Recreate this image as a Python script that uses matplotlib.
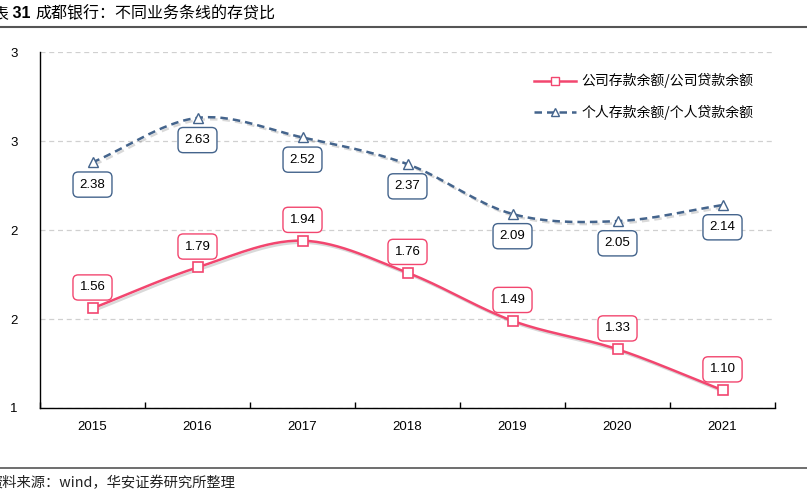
import numpy as np
import matplotlib
matplotlib.use("Agg")
import matplotlib.pyplot as plt
import matplotlib.patheffects as pe
from matplotlib.lines import Line2D
from matplotlib.ticker import FixedLocator, FuncFormatter

plt.rcParams['font.family'] = ['Noto Sans CJK SC', 'DejaVu Sans']

# Data
years = ['2015', '2016', '2017', '2018', '2019', '2020', '2021']
corp_ratio = [1.56, 1.79, 1.94, 1.76, 1.49, 1.33, 1.10]
pers_ratio = [2.38, 2.63, 2.52, 2.37, 2.09, 2.05, 2.14]
corp_label = '公司存款余额/公司贷款余额'
pers_label = '个人存款余额/个人贷款余额'

pink = '#F2466F'
blue = '#44648C'


def smooth(xs, ys, n=30):
    # Catmull-Rom curve through the points (like Excel's smoothed line)
    xs = np.asarray(xs, float)
    ys = np.asarray(ys, float)
    px = np.concatenate([[2 * xs[0] - xs[1]], xs, [2 * xs[-1] - xs[-2]]])
    py = np.concatenate([[2 * ys[0] - ys[1]], ys, [2 * ys[-1] - ys[-2]]])
    ox, oy = [], []
    t = np.linspace(0, 1, n, endpoint=False)
    for i in range(1, len(px) - 2):
        for p, out in ((px, ox), (py, oy)):
            p0, p1, p2, p3 = p[i - 1], p[i], p[i + 1], p[i + 2]
            out.extend(0.5 * (2 * p1 + (-p0 + p2) * t
                              + (2 * p0 - 5 * p1 + 4 * p2 - p3) * t ** 2
                              + (-p0 + 3 * p1 - 3 * p2 + p3) * t ** 3))
    ox.append(xs[-1])
    oy.append(ys[-1])
    return np.array(ox), np.array(oy)


fig = plt.figure(figsize=(8.07, 4.98), dpi=100)
ax = fig.add_axes([40 / 807, 1 - 408 / 498, 735 / 807, 356 / 498])

x = np.arange(len(years))
shadow = [pe.SimpleLineShadow(offset=(1.5, -1.5), alpha=0.15), pe.Normal()]

sx, sy = smooth(x, corp_ratio)
ax.plot(sx, sy, color=pink, lw=1.8, path_effects=shadow, zorder=3)
ax.plot(x, corp_ratio, ls='none', marker='s', ms=7, mfc='white', mec=pink,
        mew=1.2, zorder=4)

sx, sy = smooth(x, pers_ratio)
ax.plot(sx, sy, color=blue, lw=1.8, ls=(0, (3, 2)), path_effects=shadow, zorder=3)
ax.plot(x, pers_ratio, ls='none', marker='^', ms=7, mfc='white', mec=blue,
        mew=1.0, zorder=4)

# Data labels
for i, v in enumerate(corp_ratio):
    ax.annotate(f'{v:.2f}', (i, v), xytext=(0, 15), textcoords='offset points',
                ha='center', va='center', fontsize=9.5, family='Liberation Sans',
                bbox=dict(boxstyle='round,pad=0.5,rounding_size=0.4', fc='white',
                          ec=pink, lw=1.0), zorder=5)
for i, v in enumerate(pers_ratio):
    ax.annotate(f'{v:.2f}', (i, v), xytext=(0, -16), textcoords='offset points',
                ha='center', va='center', fontsize=9.5, family='Liberation Sans',
                bbox=dict(boxstyle='round,pad=0.5,rounding_size=0.4', fc='white',
                          ec=blue, lw=1.0), zorder=5)

ax.set_xlim(-0.5, len(years) - 0.5)
ax.set_ylim(1.0, 3.0)
ax.set_yticks([1.0, 1.5, 2.0, 2.5, 3.0])
ax.yaxis.set_major_formatter(FuncFormatter(lambda v, p: str(int(v + 0.5))))
ax.grid(axis='y', color='#D0D0D0', ls=(0, (4, 3)), lw=0.9)
ax.set_axisbelow(True)

ax.set_xticks(x)
ax.set_xticklabels(years)
ax.xaxis.set_minor_locator(FixedLocator(np.arange(len(years) + 1) - 0.5))
ax.tick_params(axis='x', which='major', length=0, pad=9, labelsize=9.5)
ax.tick_params(axis='x', which='minor', direction='in', length=4, width=1)
ax.tick_params(axis='y', length=0, pad=16, labelsize=9.5)
for lab in ax.get_xticklabels() + ax.get_yticklabels():
    lab.set_family('Liberation Sans')

for s in ['top', 'right']:
    ax.spines[s].set_visible(False)
for s in ['left', 'bottom']:
    ax.spines[s].set_color('black')
    ax.spines[s].set_linewidth(1.0)

handles = [
    Line2D([], [], color=pink, lw=1.8, marker='s', ms=6, mfc='white', mec=pink),
    Line2D([], [], color=blue, lw=1.8, ls=(0, (3, 2)), marker='^', ms=6,
           mfc='white', mec=blue),
]
ax.legend(handles, [corp_label, pers_label], loc='upper left',
          bbox_to_anchor=(0.655, 0.975), frameon=False, fontsize=10,
          handlelength=3.0, handletextpad=0.4, labelspacing=1.2)

# Header and footer
fig.add_artist(Line2D([0, 1], [1 - 27 / 498] * 2, color='#555555', lw=1.5))
fig.add_artist(Line2D([0, 1], [1 - 468 / 498] * 2, color='#555555', lw=1.2))

t1 = fig.text(-8 / 807, 1 - 14 / 498, '表', fontsize=11.5, va='center', ha='left')
t2 = fig.add_artist(plt.Annotation(' 31 ', xy=(1, 0.5), xycoords=t1, va='center',
                                   ha='left', fontsize=11.5, fontweight='bold',
                                   family='Liberation Sans'))
fig.add_artist(plt.Annotation('成都银行：不同业务条线的存贷比', xy=(1, 0.5), xycoords=t2,
                              va='center', ha='left', fontsize=11.5))

fig.text(-12 / 807, 1 - 483 / 498, '资料来源：wind，华安证券研究所整理', fontsize=10.3,
         va='center', ha='left', color='#222222')

fig.savefig('out.png', dpi=100)
